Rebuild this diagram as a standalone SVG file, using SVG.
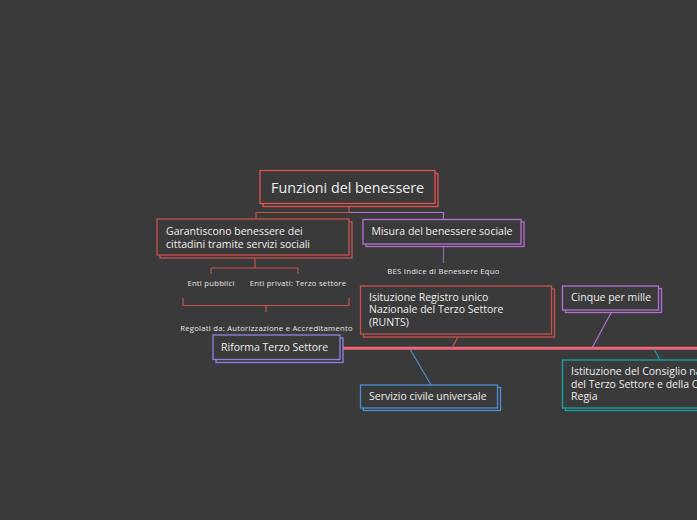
<svg xmlns="http://www.w3.org/2000/svg" width="697" height="520" viewBox="0 0 697 520">
<style>
text{font-family:"Open Sans","Noto Sans","Liberation Sans",sans-serif;fill:#eeeeee}
.n{font-size:10.5px}
.s{font-size:7.7px;letter-spacing:0.25px;fill:#e6e6e6}
.t{font-size:14.3px}
.box{fill:#3a3a3a;stroke-width:1.3}
.red{stroke:#e2504e}
.red2{stroke:#c8524e}
.pur{stroke:#b46fd2}
.lav{stroke:#8f80e6}
.blu{stroke:#4a8fd6}
.tea{stroke:#17a3a3}
.c{fill:none;stroke-width:1.2}
</style>
<rect width="697" height="520" fill="#3a3a3a"/>
<g id="connectors">
<path class="c red2" d="M349 206V212.5H256V219"/>
<path class="c pur" d="M349 212.5H443.5V219"/>
<path class="c" stroke="#8a6a9a" d="M443.5 246V263"/>
<path class="c red2" d="M255 258V268M211 268H298M211 268V274M298 268V274"/>
<path class="c red2" d="M183 298V305.5H349V298M266 305.5V312"/>
<path fill="none" stroke="#ee6476" stroke-width="3" d="M343 348.3H697"/>
<path class="c red2" stroke-width="1.5" d="M458 337L452 348"/>
<path class="c pur" stroke-width="1.5" d="M611.5 312L592 348"/>
<path class="c blu" stroke-width="1.5" d="M410 349L431 385"/>
<path class="c tea" stroke-width="1.5" d="M654 349L660 360"/>
</g>
<g id="title">
<rect class="box red" x="263" y="173.5" width="175" height="33"/>
<rect class="box red" x="260" y="170.5" width="175" height="33"/>
<text class="t" x="271" y="193">Funzioni del benessere</text>
</g>
<g id="garantiscono">
<rect class="box red2" x="160" y="222" width="192" height="36"/>
<rect class="box red2" x="157" y="219" width="192" height="36"/>
<text class="n" x="166" y="235">Garantiscono benessere dei</text>
<text class="n" x="166" y="247.5">cittadini tramite servizi sociali</text>
</g>
<g id="misura">
<rect class="box pur" x="366" y="222" width="158" height="24.5"/>
<rect class="box pur" x="363" y="219.5" width="158" height="24.5"/>
<text class="n" x="371.5" y="235">Misura del benessere sociale</text>
</g>
<g id="bes">
<text class="s" x="443.5" y="273.5" text-anchor="middle">BES Indice di Benessere Equo</text>
</g>
<g id="enti-pubblici">
<text class="s" x="211" y="285.5" text-anchor="middle">Enti pubblici</text>
</g>
<g id="enti-privati">
<text class="s" x="298" y="285.5" text-anchor="middle">Enti privati: Terzo settore</text>
</g>
<g id="regolati">
<text class="s" x="266.5" y="331" text-anchor="middle">Regolati da:  Autorizzazione e Accreditamento</text>
</g>
<g id="riforma">
<rect class="box lav" x="216" y="338" width="127" height="24.5"/>
<rect class="box lav" x="213" y="335" width="127" height="24.5"/>
<text class="n" x="221" y="351">Riforma Terzo Settore</text>
</g>
<g id="registro">
<rect class="box red2" x="363.5" y="289" width="191" height="48"/>
<rect class="box red2" x="360.5" y="286" width="191" height="48"/>
<text class="n" x="369" y="300.5">Isituzione Registro unico</text>
<text class="n" x="369" y="313">Nazionale del Terzo Settore</text>
<text class="n" x="369" y="325.5">(RUNTS)</text>
</g>
<g id="cinque">
<rect class="box pur" x="565.5" y="288.5" width="96" height="24"/>
<rect class="box pur" x="562.5" y="286" width="96" height="24"/>
<text class="n" x="571" y="300.5">Cinque per mille</text>
</g>
<g id="servizio">
<rect class="box blu" x="363.5" y="387.5" width="137" height="23"/>
<rect class="box blu" x="360.5" y="385" width="137" height="23"/>
<text class="n" x="369" y="400">Servizio civile universale</text>
</g>
<g id="consiglio">
<rect class="box tea" x="565.5" y="362.5" width="200" height="48"/>
<rect class="box tea" x="562.5" y="360" width="200" height="48"/>
<text class="n" x="571" y="375">Istituzione del Consiglio nazionale</text>
<text class="n" x="571" y="387.5">del Terzo Settore e della Cabina di</text>
<text class="n" x="571" y="400">Regia</text>
</g>
</svg>
